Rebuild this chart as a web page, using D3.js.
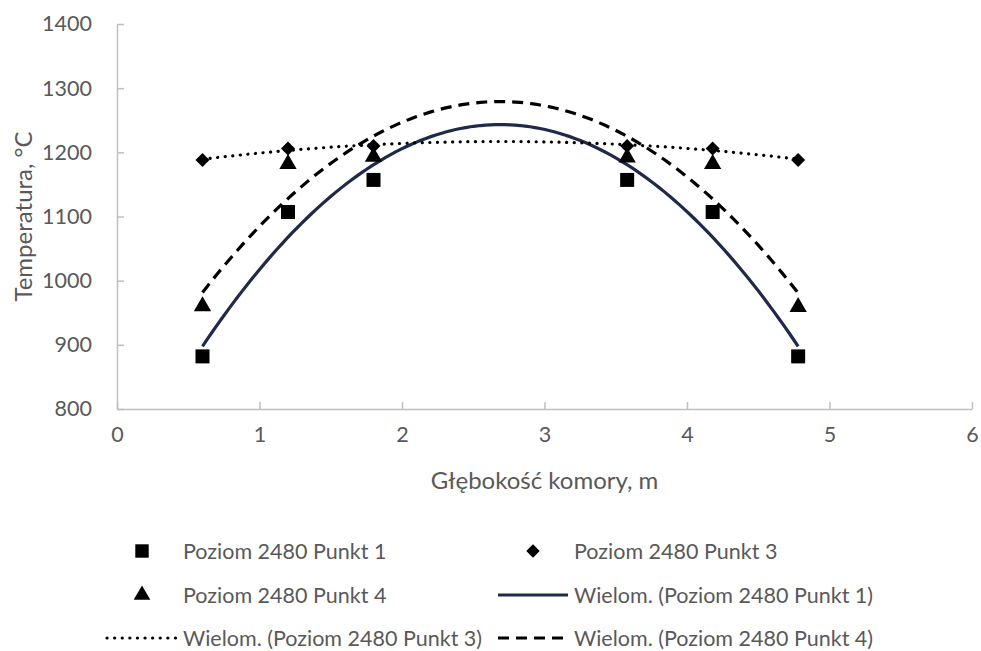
<!DOCTYPE html>
<html lang="pl">
<head>
<meta charset="UTF-8">
<title>Temperatura komory</title>
<style>
  body { margin: 0; background: #fff; }
  text { font-family: Lato, "Open Sans", sans-serif; fill: #595959; }
  .axis path, .axis line { stroke: #bfbfbf; stroke-width: 1.5px; }
</style>
<script src="https://d3js.org/d3.v7.min.js"></script>
</head>
<body>
<svg width="981" height="651"></svg>
<script>
// measured depths (m)
const depth = [0.6, 1.2, 1.8, 3.58, 4.18, 4.78];
const punkt1 = [882, 1107, 1157, 1157, 1107, 882];
const punkt3 = [1188, 1206, 1210, 1210, 1206, 1188];
const punkt4 = [960, 1182, 1193, 1192, 1182, 959];
const xTicks = [0, 1, 2, 3, 4, 5, 6];
const yTicks = [800, 900, 1000, 1100, 1200, 1300, 1400];

const svg = d3.select("svg");
const margin = { left: 117, right: 9, top: 24, bottom: 242 };
const W = 981, H = 651;
const FS = 21.5, TFS = 24;

const x = d3.scaleLinear().domain([0, 6]).range([margin.left, W - margin.right]);
const y = d3.scaleLinear().domain([800, 1400]).range([H - margin.bottom, margin.top]);

// axes (Excel style: ticks pointing inside)
svg.append("g").attr("class", "axis")
  .attr("transform", `translate(0,${y(800)})`)
  .call(d3.axisBottom(x).tickValues(xTicks).tickFormat(d3.format("d"))
    .tickSize(-7).tickSizeOuter(0).tickPadding(25))
  .call(g => g.selectAll("text").attr("dy", "0.35em"));
svg.append("g").attr("class", "axis")
  .attr("transform", `translate(${x(0)},0)`)
  .call(d3.axisLeft(y).tickValues(yTicks).tickFormat(d3.format("d"))
    .tickSize(-7).tickSizeOuter(0).tickPadding(25));
svg.selectAll(".axis").attr("font-size", FS).attr("font-family", "Lato, sans-serif");
svg.selectAll(".axis text").style("fill", "#595959");

svg.append("text").attr("x", (x(0) + x(6)) / 2).attr("y", 481)
  .attr("dy", "0.35em").attr("text-anchor", "middle").attr("font-size", TFS).text("Głębokość komory, m");
svg.append("text").attr("transform", `translate(24,${(y(800) + y(1400)) / 2}) rotate(-90)`)
  .attr("dy", "0.35em").attr("text-anchor", "middle").attr("font-size", TFS).text("Temperatura, °C");

// 2nd order polynomial trendline (least squares)
function polyFit(xs, ys) {
  let s = [0, 0, 0, 0, 0], t = [0, 0, 0];
  xs.forEach((xv, i) => {
    for (let k = 0; k < 5; k++) s[k] += Math.pow(xv, k);
    for (let k = 0; k < 3; k++) t[k] += ys[i] * Math.pow(xv, k);
  });
  const A = [[s[0], s[1], s[2], t[0]], [s[1], s[2], s[3], t[1]], [s[2], s[3], s[4], t[2]]];
  for (let i = 0; i < 3; i++) {
    for (let j = i + 1; j < 3; j++) {
      const f = A[j][i] / A[i][i];
      for (let k = i; k < 4; k++) A[j][k] -= f * A[i][k];
    }
  }
  const c = [0, 0, 0];
  for (let i = 2; i >= 0; i--) {
    let v = A[i][3];
    for (let k = i + 1; k < 3; k++) v -= A[i][k] * c[k];
    c[i] = v / A[i][i];
  }
  return xv => c[0] + c[1] * xv + c[2] * xv * xv;
}

const line = d3.line().x(d => x(d[0])).y(d => y(d[1]));
const xs = d3.range(0, 121).map(i => depth[0] + (depth[5] - depth[0]) * i / 120);

const trends = [
  { data: punkt1, stroke: "#1f2a48", dash: null, cap: "butt" },
  { data: punkt3, stroke: "#000", dash: "0.1 7.5", cap: "round" },
  { data: punkt4, stroke: "#000", dash: "11 7", cap: "butt" }
];
trends.forEach(t => {
  const f = polyFit(depth, t.data);
  svg.append("path").datum(xs.map(v => [v, f(v)]))
    .attr("d", line).attr("fill", "none")
    .attr("stroke", t.stroke).attr("stroke-width", 3.2)
    .attr("stroke-linecap", t.cap)
    .attr("stroke-dasharray", t.dash);
});

// markers (diamond = square turned 45deg, like Excel)
const sq = d3.symbol().type(d3.symbolSquare).size(196);
const tri = d3.symbol().type(d3.symbolTriangle).size(130);
const dia = d3.symbol().type(d3.symbolSquare).size(98);

function drawMarkers(vals, sym, rot) {
  svg.append("g").selectAll("path").data(vals).join("path")
    .attr("transform", (d, i) => `translate(${x(depth[i])},${y(d)}) rotate(${rot})`)
    .attr("d", sym).attr("fill", "#000");
}
drawMarkers(punkt1, sq, 0);
drawMarkers(punkt4, tri, 0);
drawMarkers(punkt3, dia, 45);

// legend
const legend = svg.append("g");
const entries = [
  { col: 0, row: 0, label: "Poziom 2480 Punkt 1", sym: d3.symbol().type(d3.symbolSquare).size(180), rot: 0 },
  { col: 1, row: 0, label: "Poziom 2480 Punkt 3", sym: d3.symbol().type(d3.symbolSquare).size(90), rot: 45 },
  { col: 0, row: 1, label: "Poziom 2480 Punkt 4", sym: d3.symbol().type(d3.symbolTriangle).size(120), rot: 0 },
  { col: 1, row: 1, label: "Wielom. (Poziom 2480 Punkt 1)", line: trends[0] },
  { col: 0, row: 2, label: "Wielom. (Poziom 2480 Punkt 3)", line: trends[1] },
  { col: 1, row: 2, label: "Wielom. (Poziom 2480 Punkt 4)", line: trends[2] }
];
const colX = [107, 498], rowY = [551, 595, 638], symW = 70;
entries.forEach(e => {
  const x0 = colX[e.col], yy = rowY[e.row];
  if (e.sym) {
    legend.append("path").attr("transform", `translate(${x0 + symW / 2},${yy}) rotate(${e.rot})`)
      .attr("d", e.sym).attr("fill", "#000");
  } else {
    legend.append("line").attr("x1", x0).attr("x2", x0 + symW).attr("y1", yy).attr("y2", yy)
      .attr("stroke", e.line.stroke).attr("stroke-width", 3.2)
      .attr("stroke-linecap", e.line.cap).attr("stroke-dasharray", e.line.dash);
  }
  legend.append("text").attr("x", x0 + 76).attr("y", yy)
    .attr("dy", "0.35em").attr("font-size", FS).text(e.label);
});
</script>
</body>
</html>
